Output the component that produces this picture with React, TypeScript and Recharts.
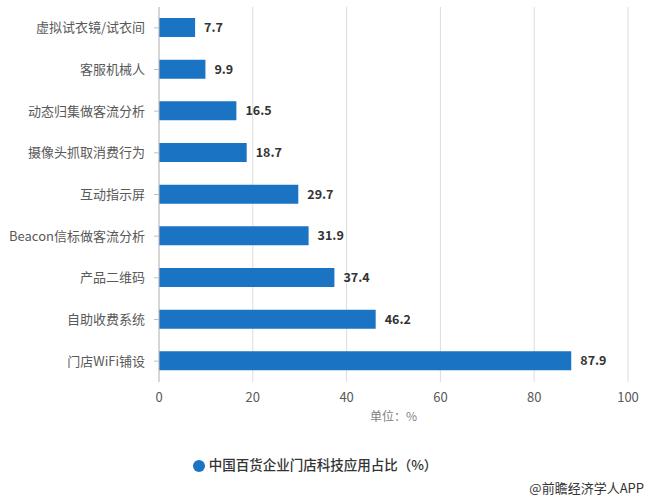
/* 中国百货企业门店科技应用占比 — horizontal bar chart */
import {
  BarChart, Bar, XAxis, YAxis, CartesianGrid, Legend, LabelList, Label,
} from 'recharts';

if (typeof document !== 'undefined') document.body.style.margin = '0';

const categories = [
  '虚拟试衣镜/试衣间', '客服机械人', '动态归集做客流分析', '摄像头抓取消费行为',
  '互动指示屏', 'Beacon信标做客流分析', '产品二维码', '自助收费系统', '门店WiFi铺设',
];
const shares = [7.7, 9.9, 16.5, 18.7, 29.7, 31.9, 37.4, 46.2, 87.9];
const xTicks = [0, 20, 40, 60, 80, 100];

const seriesName = '中国百货企业门店科技应用占比（%）';
const unitText = '单位：%';
const sourceText = '@前瞻经济学人APP';

const FONT = '"Noto Sans CJK SC", "Noto Sans", sans-serif';
const BLUE = '#1b73c3';

const data = categories.map((name, i) => ({ name, value: shares[i] }));

export default function App() {
  return (
    <div style={{ position: 'relative', width: 650, height: 500, background: '#fff', fontFamily: FONT }}>
      <BarChart width={650} height={500} data={data} layout="vertical"
        margin={{ top: 7, right: 22, bottom: 88, left: 0 }}>
        <CartesianGrid horizontal={false} stroke="#dcdcdc" />
        <XAxis type="number" domain={[0, 100]} ticks={xTicks} axisLine={false} tickLine={false}
          tickMargin={5} tick={{ fontSize: 13, fill: '#595959', fontFamily: FONT }}>
          <Label value={unitText} position="bottom" offset={0}
            style={{ fontSize: 12, fill: '#7f7f7f', fontFamily: FONT }} />
        </XAxis>
        <YAxis type="category" dataKey="name" width={159} tickSize={5} tickMargin={9}
          axisLine={{ stroke: '#bfbfbf' }} tickLine={{ stroke: '#bfbfbf' }}
          tick={{ fontSize: 13, fill: '#595959', fontFamily: FONT }} />
        <Legend verticalAlign="middle" align="center" iconType="circle" iconSize={12}
          wrapperStyle={{ top: 451, left: 6 }}
          formatter={(v: string) => (
            <span style={{ color: '#333', fontSize: 13.5, fontWeight: 500, fontFamily: FONT }}>{v}</span>
          )} />
        <Bar dataKey="value" name={seriesName} fill={BLUE} barSize={19} isAnimationActive={false}>
          <LabelList dataKey="value" position="right" offset={9}
            style={{ fontSize: 12.5, fontWeight: 700, fill: '#333', fontFamily: FONT }} />
        </Bar>
      </BarChart>
      <div style={{
        position: 'absolute', right: 6, top: 478, fontSize: 13, color: '#333', fontFamily: FONT,
      }}>{sourceText}</div>
    </div>
  );
}
